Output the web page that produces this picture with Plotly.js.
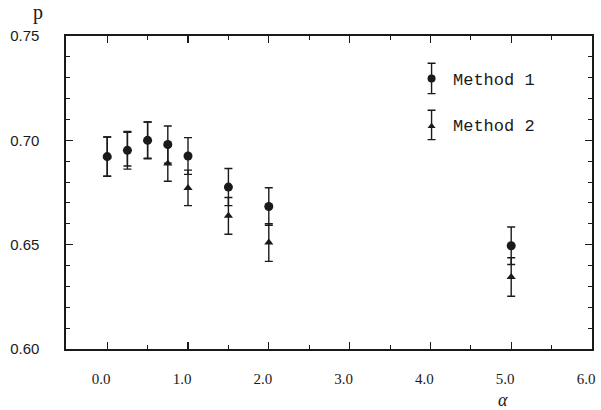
<!DOCTYPE html>
<html>
<head>
<meta charset="utf-8">
<script src="https://cdn.plot.ly/plotly-3.0.1.min.js"></script>
<style>html,body{margin:0;padding:0;background:#fff}#chart{width:601px;height:410px}</style>
</head>
<body>
<div id="chart"></div>
<script>
// Data
var alpha = [0, 0.25, 0.5, 0.75, 1.0, 1.5, 2.0, 5.0];
var method1 = [0.6922, 0.6952, 0.7000, 0.6980, 0.6925, 0.6776, 0.6683, 0.6495];
var method1Err = [0.0094, 0.0090, 0.0088, 0.0089, 0.0088, 0.0089, 0.0090, 0.0090];
var method2 = [0.6922, 0.6958, 0.7001, 0.6889, 0.6772, 0.6638, 0.6510, 0.6345];
var method2Err = [0.0094, 0.0081, 0.0087, 0.0085, 0.0085, 0.0088, 0.0090, 0.0092];
var xTicks = [0, 1, 2, 3, 4, 5, 6];
var xTickText = ['0.0', '1.0', '2.0', '3.0', '4.0', '5.0', '6.0'];
var yTicks = [0.60, 0.65, 0.70, 0.75];
var yTickText = ['0.60', '0.65', '0.70', '0.75'];
var seriesNames = ['Method 1', 'Method 2'];

var ink = '#1a1a1a';

var traces = [
  {
    x: alpha, y: method2, type: 'scatter', mode: 'markers', name: seriesNames[1],
    marker: {symbol: 'triangle-up', size: 8, color: ink},
    error_y: {type: 'data', array: method2Err, visible: true, color: ink, thickness: 1.4, width: 4},
    showlegend: false, cliponaxis: false
  },
  {
    x: alpha, y: method1, type: 'scatter', mode: 'markers', name: seriesNames[0],
    marker: {symbol: 'circle', size: 9, color: ink},
    error_y: {type: 'data', array: method1Err, visible: true, color: ink, thickness: 1.4, width: 4},
    showlegend: false, cliponaxis: false
  },
  // legend keys (drawn on a hidden overlay axis spanning the plot area)
  {
    x: [0.695], y: [0.864], xaxis: 'x2', yaxis: 'y2', type: 'scatter', mode: 'markers',
    marker: {symbol: 'circle', size: 8, color: ink},
    error_y: {type: 'data', symmetric: false, array: [0.049], arrayminus: [0.048], visible: true, color: ink, thickness: 1.4, width: 4},
    showlegend: false, hoverinfo: 'skip'
  },
  {
    x: [0.695], y: [0.712], xaxis: 'x2', yaxis: 'y2', type: 'scatter', mode: 'markers',
    marker: {symbol: 'triangle-up', size: 7, color: ink},
    error_y: {type: 'data', symmetric: false, array: [0.051], arrayminus: [0.043], visible: true, color: ink, thickness: 1.4, width: 4},
    showlegend: false, hoverinfo: 'skip'
  }
];

var layout = {
  width: 601, height: 410,
  margin: {l: 66, r: 9, t: 36, b: 61},
  paper_bgcolor: '#fff', plot_bgcolor: '#fff',
  showlegend: false,
  title: {
    text: 'p', xref: 'container', yref: 'container', x: 38/601, y: 1 - 12/410,
    xanchor: 'center', yanchor: 'middle',
    font: {family: 'Liberation Serif, DejaVu Serif, serif', size: 20, color: ink}
  },
  xaxis: {
    range: [-0.51, 6.0], tickvals: xTicks, ticktext: xTickText,
    ticks: 'inside', ticklen: 7, tickwidth: 1.2, tickcolor: ink,
    minor: {dtick: 0.5, tick0: 0, ticks: 'inside', ticklen: 4, tickwidth: 1, tickcolor: ink},
    showline: true, linecolor: ink, linewidth: 1.6, mirror: 'ticks',
    showgrid: false, zeroline: false,
    ticklabelstandoff: 15, ticklabelshift: -6,
    tickfont: {family: 'Liberation Serif, DejaVu Serif, serif', size: 15, color: ink}
  },
  yaxis: {
    range: [0.60, 0.75], tickvals: yTicks, ticktext: yTickText,
    ticks: 'inside', ticklen: 7, tickwidth: 1.2, tickcolor: ink,
    minor: {dtick: 0.01, tick0: 0.60, ticks: 'inside', ticklen: 4, tickwidth: 1, tickcolor: ink},
    showline: true, linecolor: ink, linewidth: 1.6, mirror: 'ticks',
    showgrid: false, zeroline: false,
    ticklabelstandoff: 22,
    tickfont: {family: 'Liberation Sans, Arial, sans-serif', size: 15, color: ink}
  },
  xaxis2: {overlaying: 'x', range: [0, 1], visible: false, fixedrange: true},
  yaxis2: {overlaying: 'y', range: [0, 1], visible: false, fixedrange: true},
  annotations: [
    {xref: 'paper', yref: 'paper', x: 0.732, y: 0.859, xanchor: 'left', yanchor: 'middle',
     text: seriesNames[0], showarrow: false,
     font: {family: 'Liberation Mono, DejaVu Sans Mono, monospace', size: 17, color: ink}},
    {xref: 'paper', yref: 'paper', x: 0.732, y: 0.712, xanchor: 'left', yanchor: 'middle',
     text: seriesNames[1], showarrow: false,
     font: {family: 'Liberation Mono, DejaVu Sans Mono, monospace', size: 17, color: ink}},
    {xref: 'paper', yref: 'paper', x: 0.830, y: -0.163, xanchor: 'center', yanchor: 'middle',
     text: '<i>α</i>', showarrow: false,
     font: {family: 'Liberation Serif, DejaVu Serif, serif', size: 18, color: ink}}
  ]
};

Plotly.newPlot('chart', traces, layout, {staticPlot: true, displayModeBar: false});
</script>
</body>
</html>
